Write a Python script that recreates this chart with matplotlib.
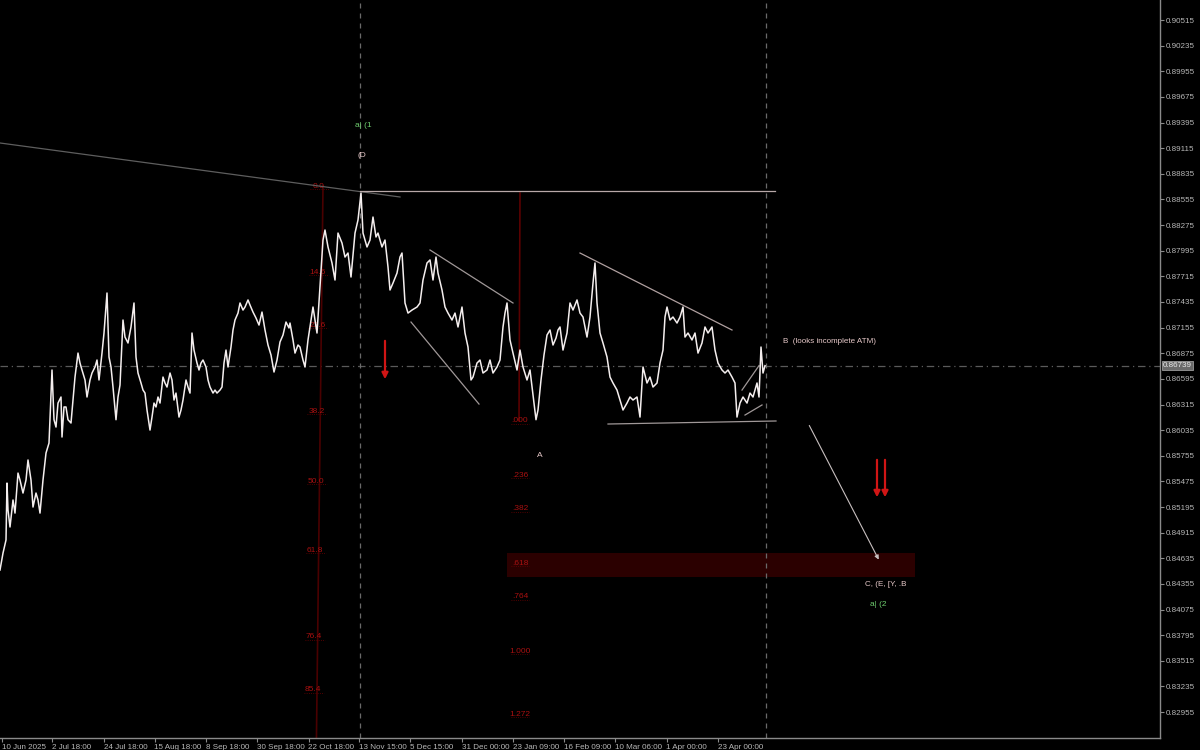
import matplotlib
matplotlib.use("Agg")
import matplotlib.pyplot as plt

OUTPUT_PATH = "out.png"

# price series (bar position, close)
bar_idx = [
    0, 3, 6, 7, 8, 10, 13, 15, 18, 20, 23, 26, 28, 31, 33, 36, 38, 40, 43, 46, 49, 52, 54, 56, 58,
    61, 62, 64, 66, 68, 71, 73, 75, 78, 80, 82, 85, 87, 90, 92, 95, 97, 99, 102, 104, 107, 109,
    111, 113, 116, 118, 120,
    123, 125, 128, 131, 134, 136, 138, 141, 143, 145, 147, 150, 152, 154, 156, 158, 160, 163,
    165, 167, 170, 172, 174, 176, 179, 181, 183, 186, 188, 190, 192, 194, 197, 199, 201, 203,
    206, 208, 210, 213, 215, 217, 220, 222, 224, 226, 228, 231, 233, 235, 238, 240, 243, 245, 248,
    250, 253, 256, 259, 262, 265, 268, 271, 274, 277, 280, 283, 286, 289,
    290, 293, 295, 298, 300, 303, 305, 308, 311, 313, 317, 320, 323, 325, 328, 332, 335, 338,
    342, 345, 348, 351, 355, 358, 361, 363, 367, 370, 373, 376, 378, 382, 385, 388, 390, 393,
    397, 400, 402, 405, 408, 412, 417,
    420, 423, 427, 430, 433, 436, 438, 442, 445, 448, 452, 455, 458, 462, 465, 468, 471, 473,
    477, 480, 483, 487, 490, 493, 497, 500, 503, 505, 507, 510, 513, 517, 520, 523, 527, 530,
    533, 536, 538, 541, 544, 547, 550, 553, 556, 558,
    560, 563, 567, 570, 573, 577, 580, 583, 587, 590, 593, 595, 597, 600, 603, 607, 610, 613,
    617, 620, 623, 627, 630, 633, 637, 640, 643, 647, 650, 653, 657, 660, 663, 665, 667, 670,
    673, 677, 680, 683, 685, 688, 692, 695, 698, 702, 705, 708, 712, 715, 718, 722, 725, 728,
    732, 735, 737, 740, 743, 747, 750, 753, 757, 759, 761, 763, 765,
]
close = [
    0.84507, 0.84692, 0.84835, 0.85457, 0.85162, 0.84977, 0.85272, 0.85129, 0.85566, 0.85490,
    0.85348, 0.85490, 0.85709, 0.85490, 0.85195, 0.85348, 0.85272, 0.85129, 0.85490, 0.85785,
    0.85894, 0.86692, 0.86149, 0.86069, 0.86331, 0.86397, 0.85960, 0.86288, 0.86288, 0.86149,
    0.86113, 0.86364, 0.86615, 0.86877, 0.86768, 0.86692, 0.86583, 0.86397, 0.86583, 0.86659,
    0.86725, 0.86801, 0.86583, 0.86877, 0.87096, 0.87533, 0.86834, 0.86725, 0.86506, 0.86149,
    0.86397, 0.86528,
    0.87238, 0.87052, 0.86987, 0.87162, 0.87424, 0.86834, 0.86659, 0.86550, 0.86473, 0.86440,
    0.86255, 0.86036, 0.86178, 0.86331, 0.86288, 0.86397, 0.86331, 0.86615, 0.86550, 0.86506,
    0.86659, 0.86583, 0.86364, 0.86440, 0.86178, 0.86255, 0.86364, 0.86583, 0.86506, 0.86440,
    0.87096, 0.86910, 0.86768, 0.86692, 0.86768, 0.86801, 0.86725, 0.86583, 0.86506, 0.86440,
    0.86473, 0.86440, 0.86473, 0.86506, 0.86768, 0.86910, 0.86725, 0.86943, 0.87129, 0.87238,
    0.87314, 0.87424, 0.87347, 0.87380, 0.87457,
    0.87402, 0.87325, 0.87260, 0.87183, 0.87325, 0.87129, 0.86965, 0.86856, 0.86670, 0.86801,
    0.86998, 0.87074, 0.87216, 0.87151,
    0.87205, 0.87020, 0.86877, 0.86965, 0.86943, 0.86801, 0.86725, 0.87020, 0.87238, 0.87380,
    0.87096, 0.87599, 0.88112, 0.88221, 0.88036, 0.87861, 0.87675, 0.88188, 0.88079, 0.87926,
    0.87970, 0.87708, 0.88188, 0.88331, 0.88625, 0.88188, 0.88036, 0.88112, 0.88363, 0.88145,
    0.88188, 0.88036, 0.88112, 0.87817, 0.87566, 0.87642, 0.87751, 0.87926, 0.87970, 0.87424,
    0.87314, 0.87347, 0.87380,
    0.87424, 0.87675, 0.87861, 0.87894, 0.87675, 0.87926, 0.87751, 0.87566, 0.87380, 0.87314,
    0.87238, 0.87314, 0.87162, 0.87380, 0.87096, 0.86943, 0.86583, 0.86615, 0.86768, 0.86801,
    0.86659, 0.86692, 0.86801, 0.86659, 0.86725, 0.86801, 0.87162, 0.87314, 0.87424, 0.87020,
    0.86877, 0.86692, 0.86910, 0.86725, 0.86583, 0.86692,
    0.86419, 0.86149, 0.86255, 0.86583, 0.86856, 0.87074, 0.87129, 0.86965, 0.87041, 0.87129,
    0.87162, 0.86910, 0.87096, 0.87424, 0.87347, 0.87457, 0.87314, 0.87271, 0.87052, 0.87271,
    0.87642, 0.87861, 0.87424, 0.87096, 0.86987, 0.86834, 0.86615, 0.86550, 0.86473, 0.86364,
    0.86255, 0.86331, 0.86397, 0.86364, 0.86397, 0.86178, 0.86725, 0.86550, 0.86615, 0.86506,
    0.86550, 0.86768, 0.86910, 0.87271, 0.87380, 0.87238, 0.87271, 0.87205, 0.87271, 0.87380,
    0.87052, 0.87096, 0.87020, 0.87096, 0.86877, 0.86987, 0.87162, 0.87096, 0.87162, 0.86910,
    0.86768, 0.86692, 0.86659, 0.86692, 0.86615, 0.86550, 0.86178, 0.86331, 0.86397, 0.86331,
    0.86440, 0.86397, 0.86550, 0.86397, 0.86943, 0.86659, 0.86739,
]

current_price = 0.86739

x_tick_pos = [2, 52.4, 103.5, 154.5, 205.5, 257, 308.5, 359, 410.3, 461.5, 512.8, 564, 615.3, 666.5, 717.7]
x_tick_labels = [
    "10 Jun 2025", "2 Jul 18:00", "24 Jul 18:00", "15 Aug 18:00", "8 Sep 18:00",
    "30 Sep 18:00", "22 Oct 18:00", "13 Nov 15:00", "5 Dec 15:00", "31 Dec 00:00",
    "23 Jan 09:00", "16 Feb 09:00", "10 Mar 06:00", "1 Apr 00:00", "23 Apr 00:00",
]
y_ticks = [0.82955 + 0.0028 * k for k in range(28)]

# fibonacci tools
fib1_top = (323, 0.88702)
fib1_bottom = (316, 0.82256)
fib1_levels = [0.0, 14.6, 23.6, 38.2, 50.0, 61.8, 76.4, 85.4]
fib2_x = 520
fib2_start = 0.88625
fib2_zero = 0.86137
fib2_one = 0.83619
fib2_levels = [0.0, 0.236, 0.382, 0.618, 0.764, 1.0, 1.272]
fib2_labels = [".000", ".236", ".382", ".618", ".764", "1.000", "1.272"]

# target zone
zone_x = (507, 915)
zone_price = (0.84431, 0.84693)

# trend lines (bar, price) pairs
trend_lines = [
    ((0, 0.89172), (400, 0.88582), "#5e5e5e"),
    ((360, 0.88647), (775, 0.88647), "#b8a8a8"),
    ((430, 0.88003), (513, 0.87424), "#a09898"),
    ((411, 0.87216), (479, 0.86320), "#a09898"),
    ((580, 0.87970), (732, 0.87129), "#b0a0a0"),
    ((608, 0.86102), (776, 0.86135), "#a09898"),
    ((742, 0.86473), (759, 0.86740), "#a09898"),
    ((745, 0.86200), (762, 0.86310), "#a09898"),
]

BG = "#000000"
AXIS_C = "#8a8a8a"
TXT_C = "#b8b8b8"
FIB_C = "#a81010"
PINK = "#e6c8c8"
GREEN = "#6fcf6f"
RED = "#d01515"
FONT = "Liberation Sans"


def main():
    fig = plt.figure(figsize=(12, 7.5), dpi=100, facecolor=BG)
    ax = fig.add_axes([0, 0.016, 1160 / 1200, 0.984])
    ax.set_facecolor(BG)
    ax.set_xlim(0, 1160)
    ax.set_ylim(0.82672, 0.90734)

    # target zone
    ax.fill_between(zone_x, zone_price[0], zone_price[1], color="#2b0000", lw=0, zorder=1)

    # current price line and the two vertical markers
    ax.axhline(current_price, color="#5a5a5a", lw=0.9, ls=(0, (6, 3, 1, 3)), zorder=1)
    for vx in (360, 766):
        ax.axvline(vx, color="#6a6a6a", lw=0.9, ls=(0, (4, 4)), zorder=1)

    # fib 1 (left)
    ax.plot([fib1_top[0], fib1_bottom[0]], [fib1_top[1], fib1_bottom[1]], color="#4a0000", lw=1.2, zorder=2)
    for lvl in fib1_levels:
        t = lvl / 100
        px = fib1_top[0] + (fib1_bottom[0] - fib1_top[0]) * t
        py = fib1_top[1] + (fib1_bottom[1] - fib1_top[1]) * t
        ax.text(px - 4, py, f"{lvl:.1f}", color=FIB_C, fontsize=6, family=FONT,
                ha="center", va="center", zorder=3)
        ax.plot([px - 13, px + 7], [py - 0.0003, py - 0.0003], color="#6a0000", lw=0.6, ls=":", zorder=2)

    # fib 2 (middle)
    ax.plot([fib2_x, fib2_x - 1], [fib2_start, fib2_zero], color="#5a0000", lw=1.2, zorder=2)
    for lvl, lab in zip(fib2_levels, fib2_labels):
        py = fib2_zero + (fib2_one - fib2_zero) * lvl
        ax.text(fib2_x, py, lab, color=FIB_C, fontsize=6, family=FONT,
                ha="center", va="center", zorder=3)
        ax.plot([fib2_x - 9, fib2_x + 9], [py - 0.0003, py - 0.0003], color="#6a0000", lw=0.6, ls=":", zorder=2)

    for (x0, y0), (x1, y1), c in trend_lines:
        ax.plot([x0, x1], [y0, y1], color=c, lw=0.9, zorder=3)

    # price
    ax.plot(bar_idx, close, color="#f4eeee", lw=1.1, zorder=4)

    # arrows
    ax.annotate("", xy=(385, 0.86561), xytext=(385, 0.87041),
                arrowprops=dict(arrowstyle="-|>", color=RED, lw=1.6, mutation_scale=9), zorder=5)
    for ax_x in (877, 885):
        ax.annotate("", xy=(ax_x, 0.85271), xytext=(ax_x, 0.85741),
                    arrowprops=dict(arrowstyle="-|>", color=RED, lw=1.6, mutation_scale=9), zorder=5)
    ax.annotate("", xy=(880, 0.84594), xytext=(808, 0.86113),
                arrowprops=dict(arrowstyle="-|>", color="#c8c0c0", lw=0.8, mutation_scale=6), zorder=5)

    # wave labels
    ax.text(355, 0.89358, "a| (1", color=GREEN, fontsize=6, family=FONT, va="center", ha="left")
    ax.text(358, 0.89030, "(D", color=PINK, fontsize=6, family=FONT, va="center", ha="left")
    ax.text(537, 0.85753, "A", color=PINK, fontsize=6, family=FONT, va="center", ha="left")
    ax.text(783, 0.87006, "B  (looks incomplete ATM)", color=PINK, fontsize=5.8, family=FONT,
            va="center", ha="left")
    ax.text(865, 0.84354, "C, (E, [Y, .B", color=PINK, fontsize=5.8, family=FONT, va="center", ha="left")
    ax.text(870, 0.84134, "a| (2", color=GREEN, fontsize=6, family=FONT, va="center", ha="left")

    # axes styling
    for side in ("top", "left"):
        ax.spines[side].set_visible(False)
    for side in ("right", "bottom"):
        ax.spines[side].set_color(AXIS_C)
        ax.spines[side].set_linewidth(1.0)

    ax.yaxis.tick_right()
    ax.set_yticks(y_ticks)
    ax.set_yticklabels([f"{v:.5f}" for v in y_ticks])
    ax.set_xticks(x_tick_pos)
    ax.set_xticklabels(x_tick_labels, ha="left")
    ax.tick_params(axis="both", colors=AXIS_C, length=3, width=0.8, labelsize=5.8,
                   labelcolor=TXT_C, pad=1.5)
    for lab in ax.get_xticklabels() + ax.get_yticklabels():
        lab.set_family(FONT)

    ax.text(1163, current_price, f"{current_price:.5f}", color="#e8e8e8", fontsize=5.8, family=FONT,
            va="center", ha="left", clip_on=False,
            bbox=dict(boxstyle="square,pad=0.15", facecolor="#6a6a6a", edgecolor="#9a9a9a", lw=0.6),
            zorder=6)

    fig.savefig(OUTPUT_PATH, dpi=100, facecolor=BG)
    plt.close(fig)


if __name__ == "__main__":
    main()
